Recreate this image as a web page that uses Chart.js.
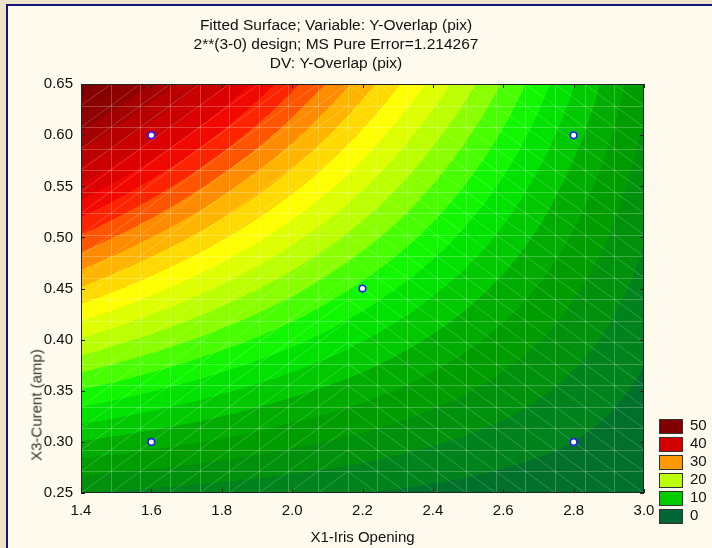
<!DOCTYPE html>
<html><head><meta charset="utf-8">
<script src="https://cdn.jsdelivr.net/npm/chart.js@4.4.1/dist/chart.umd.min.js"></script>
<style>
html,body{margin:0;padding:0;width:712px;height:548px;overflow:hidden;background:#EEE3CB;}
#panel{position:absolute;left:6px;top:4px;width:720px;height:560px;background:#FFFAEE;border-left:2px solid #14147A;border-top:2px solid #14147A;}
#wrap{position:absolute;left:0;top:0;width:712px;height:548px;}
#ytitle{position:absolute;left:36px;top:405px;transform:translate(-50%,-50%) rotate(-90deg);font:15px 'Liberation Sans',Arial,sans-serif;color:#333;white-space:nowrap;}
#legend{position:absolute;left:659px;top:419px;font:15px 'Liberation Sans',Arial,sans-serif;color:#111;}
.li{position:relative;height:18px;}
.sw{position:absolute;left:0;top:0;width:22px;height:13px;border:1px solid #333;}
.lt{position:absolute;left:31px;top:-3px;line-height:18px;}
</style></head>
<body>
<div id="panel"></div>
<div id="wrap"><canvas id="c" width="712" height="548"></canvas></div>
<div id="ytitle">X3-Curent (amp)</div>
<div id="legend"></div>
<script>
// ---- data ----
const titleLines = ['Fitted Surface; Variable: Y-Overlap (pix)', '2**(3-0) design; MS Pure Error=1.214267', 'DV: Y-Overlap (pix)'];
const xTitle = 'X1-Iris Opening';
const xTicks = [1.4, 1.6, 1.8, 2.0, 2.2, 2.4, 2.6, 2.8, 3.0];
const xTickLabels = ['1.4', '1.6', '1.8', '2.0', '2.2', '2.4', '2.6', '2.8', '3.0'];
const yTicks = [0.25, 0.30, 0.35, 0.40, 0.45, 0.50, 0.55, 0.60, 0.65];
const yTickLabels = ['0.25', '0.30', '0.35', '0.40', '0.45', '0.50', '0.55', '0.60', '0.65'];
// fitted surface values (Y-Overlap) read at grid nodes; rows = yTicks (bottom to top), columns = xTicks
const surfaceRow025 = [4.0, 3.5, 3.0, 2.5, 2.0, 1.5, 1.0, 0.5, 0.0];
const surfaceRow030 = [9.9, 8.8, 7.7, 6.5, 5.4, 4.2, 3.1, 2.0, 0.8];
const surfaceRow035 = [15.9, 14.1, 12.3, 10.5, 8.8, 7.0, 5.2, 3.4, 1.6];
const surfaceRow040 = [21.8, 19.4, 17.0, 14.6, 12.1, 9.7, 7.3, 4.9, 2.4];
const surfaceRow045 = [27.8, 24.7, 21.6, 18.6, 15.5, 12.4, 9.4, 6.3, 3.3];
const surfaceRow050 = [33.7, 30.0, 26.3, 22.6, 18.9, 15.2, 11.5, 7.8, 4.1];
const surfaceRow055 = [39.6, 35.3, 30.9, 26.6, 22.3, 17.9, 13.6, 9.2, 4.9];
const surfaceRow060 = [45.6, 40.6, 35.6, 30.6, 25.6, 20.6, 15.7, 10.7, 5.7];
const surfaceRow065 = [51.5, 45.9, 40.3, 34.6, 29.0, 23.4, 17.8, 12.1, 6.5];
const surfaceRows = [surfaceRow025, surfaceRow030, surfaceRow035, surfaceRow040, surfaceRow045, surfaceRow050, surfaceRow055, surfaceRow060, surfaceRow065];
// design points
const pointsX = [1.6, 2.8, 2.2, 1.6, 2.8];
const pointsY = [0.60, 0.60, 0.45, 0.30, 0.30];
// legend
const legendLevels = ['50', '40', '30', '20', '10', '0'];
const legendColors = ['#800000', '#D40000', '#FF9900', '#BBFF00', '#00CC00', '#006633'];

// ---- styling ----
const FONT = "'Liberation Sans', Arial, sans-serif";
const bandStep = 2;
const cmapStops = [[-6,[0,80,56]],[0,[0,102,51]],[4,[0,140,20]],[6.5,[0,153,0]],[9,[0,172,0]],[11.5,[0,208,0]],[14,[0,238,0]],[16,[34,255,0]],[18.3,[119,255,0]],[21,[187,255,0]],[23,[221,255,0]],[25,[255,255,0]],[28.7,[255,187,0]],[30.5,[255,153,0]],[33,[255,85,0]],[35.8,[255,17,0]],[38.3,[226,0,0]],[41,[202,0,0]],[44,[176,0,0]],[47,[143,0,0]],[51.5,[122,0,0]],[56,[105,0,0]]];
function cmap(v){
  if (v <= cmapStops[0][0]) return cmapStops[0][1];
  for (let i=1;i<cmapStops.length;i++){
    if (v <= cmapStops[i][0]){
      const [a0,c0]=cmapStops[i-1],[a1,c1]=cmapStops[i];
      const t=(v-a0)/(a1-a0);
      return [0,1,2].map(k=>Math.round(c0[k]+(c1[k]-c0[k])*t));
    }
  }
  return cmapStops[cmapStops.length-1][1];
}
function findCell(arr,v){
  let i=0; while(i<arr.length-2 && v>arr[i+1]) i++;
  const t=Math.max(0,Math.min(1,(v-arr[i])/(arr[i+1]-arr[i])));
  return [i,t];
}
function sampleZ(xv,yv){
  const [i,tx]=findCell(xTicks,xv), [j,ty]=findCell(yTicks,yv);
  const z00=surfaceRows[j][i], z10=surfaceRows[j][i+1], z01=surfaceRows[j+1][i], z11=surfaceRows[j+1][i+1];
  return z00*(1-tx)*(1-ty)+z10*tx*(1-ty)+z01*(1-tx)*ty+z11*tx*ty;
}

// legend (HTML)
const lg=document.getElementById('legend');
legendLevels.forEach((l,k)=>{
  const d=document.createElement('div'); d.className='li';
  d.innerHTML='<div class="sw" style="background:'+legendColors[k]+'"></div><div class="lt">'+l+'</div>';
  lg.appendChild(d);
});

const surfacePlugin={
  id:'surface',
  beforeDatasetsDraw(chart){
    const {ctx, chartArea:a, scales:{x:xs,y:ys}}=chart;
    const L=Math.round(a.left), T=Math.round(a.top), R=Math.round(a.right), B=Math.round(a.bottom);
    const w=R-L, h=B-T;
    const off=document.createElement('canvas'); off.width=w; off.height=h;
    const octx=off.getContext('2d'); const img=octx.createImageData(w,h); const d=img.data;
    for(let py=0;py<h;py++){
      const yv=ys.getValueForPixel(T+py+0.5);
      for(let px=0;px<w;px++){
        const xv=xs.getValueForPixel(L+px+0.5);
        const z=sampleZ(xv,yv);
        const c=cmap(Math.floor(z/bandStep)*bandStep+bandStep/2);
        const o=(py*w+px)*4; d[o]=c[0]; d[o+1]=c[1]; d[o+2]=c[2]; d[o+3]=255;
      }
    }
    octx.putImageData(img,0,0);
    ctx.drawImage(off,L,T);
    // mesh
    ctx.save();
    ctx.beginPath(); ctx.rect(L,T,w,h); ctx.clip();
    ctx.strokeStyle='rgba(255,255,255,0.24)'; ctx.lineWidth=1;
    const N=19, x0=xs.min, x1=xs.max, y0=ys.min, y1=ys.max;
    const gx=[],gy=[];
    for(let i=0;i<=N;i++){ gx.push(xs.getPixelForValue(x0+(x1-x0)*i/N)); gy.push(ys.getPixelForValue(y0+(y1-y0)*i/N)); }
    ctx.beginPath();
    for(let i=1;i<N;i++){ const X=Math.round(gx[i])+0.5; ctx.moveTo(X,T); ctx.lineTo(X,B); const Y=Math.round(gy[i])+0.5; ctx.moveTo(L,Y); ctx.lineTo(R,Y); }
    ctx.stroke();
    ctx.strokeStyle='rgba(255,255,255,0.2)';
    ctx.beginPath();
    for(let i=0;i<N;i++){ for(let j=0;j<N;j++){
      if(i<N/2-0.5){ ctx.moveTo(gx[i],gy[j]); ctx.lineTo(gx[i+1],gy[j+1]); }
      else { ctx.moveTo(gx[i],gy[j+1]); ctx.lineTo(gx[i+1],gy[j]); }
    }}
    ctx.stroke();
    ctx.restore();
    // frame + inside ticks
    ctx.save();
    ctx.strokeStyle='#222'; ctx.lineWidth=1;
    ctx.strokeRect(L+0.5,T+0.5,w-1,h-1);
    ctx.beginPath();
    xs.ticks.forEach(t=>{ const X=Math.round(xs.getPixelForValue(t.value))+0.5; ctx.moveTo(X,B); ctx.lineTo(X,B-4); ctx.moveTo(X,T); ctx.lineTo(X,T+4); });
    ys.ticks.forEach(t=>{ const Y=Math.round(ys.getPixelForValue(t.value))+0.5; ctx.moveTo(L,Y); ctx.lineTo(L+4,Y); ctx.moveTo(R,Y); ctx.lineTo(R-4,Y); });
    ctx.stroke();
    ctx.restore();
  }
};

Chart.defaults.font.family=FONT;
Chart.defaults.font.size=15;
Chart.defaults.color='#111';

new Chart(document.getElementById('c'),{
  type:'scatter',
  data:{datasets:[{
    data:pointsX.map((x,k)=>({x:x,y:pointsY[k]})),
    pointRadius:3.3, pointBorderWidth:1.6, pointBorderColor:'#2222FF', pointBackgroundColor:'#FFFFFF',
    borderColor:'#2222FF', backgroundColor:'#FFFFFF'
  }]},
  options:{
    responsive:false, animation:false, devicePixelRatio:1,
    layout:{padding:{left:28,right:68,top:0,bottom:0}},
    plugins:{
      legend:{display:false}, tooltip:{enabled:false},
      title:{display:true,text:titleLines,color:'#111',font:{size:15.5,weight:'normal',lineHeight:1.23},padding:{top:16.5,bottom:10.5}}
    },
    scales:{
      x:{type:'linear',min:1.4,max:3.0,
        afterBuildTicks:s=>{s.ticks=xTicks.map(v=>({value:v}));},
        ticks:{padding:9,autoSkip:false,maxRotation:0,callback:(v,i)=>xTickLabels[i]},
        grid:{display:false,drawTicks:false}, border:{display:false},
        title:{display:true,text:xTitle,padding:{top:0,bottom:1}},
        afterFit:s=>{s.height=55;}
      },
      y:{type:'linear',min:0.25,max:0.65,
        afterBuildTicks:s=>{s.ticks=yTicks.map(v=>({value:v}));},
        ticks:{padding:8,autoSkip:false,callback:(v,i)=>yTickLabels[i]},
        grid:{display:false,drawTicks:false}, border:{display:false},
        afterFit:s=>{s.width=53;}
      }
    }
  },
  plugins:[surfacePlugin]
});
</script>
</body></html>
